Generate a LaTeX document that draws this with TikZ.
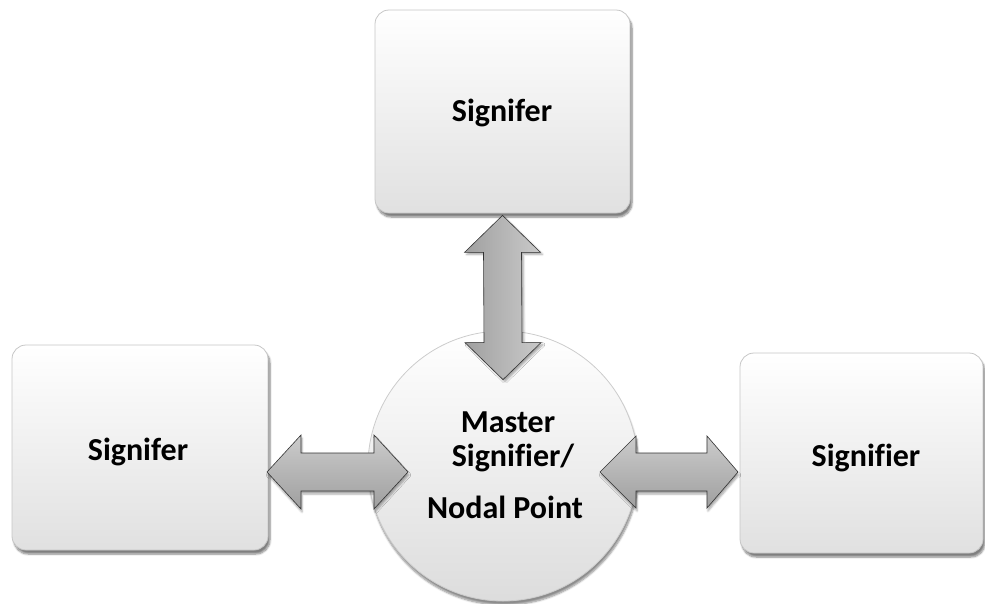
\documentclass[tikz,border=0pt]{standalone}
\usepackage{fontspec}
\setmainfont[Ligatures=NoCommon]{Carlito}
\usetikzlibrary{calc,shadows.blur}
\begin{document}
\begin{tikzpicture}[x=1pt,y=-1pt,
  sbox/.style={rectangle, rounded corners=14pt, draw=gray!45, line width=0.8pt,
    top color=white, bottom color=gray!24,
    blur shadow={shadow xshift=2pt, shadow yshift=-4pt, shadow blur steps=6, shadow opacity=50}},
  scirc/.style={circle, draw=gray!40, line width=0.8pt, top color=white, bottom color=gray!27,
    blur shadow={shadow xshift=1pt, shadow yshift=-4pt, shadow blur steps=6, shadow opacity=45}},
  lbl/.style={font=\fontsize{32}{36}\selectfont\bfseries, text=black, anchor=base, inner sep=0pt},
  harrow/.style={draw=gray!40!black, line width=0.6pt, line join=miter, top color=gray!40, bottom color=gray!75, middle color=gray!58,
    blur shadow={shadow xshift=1pt, shadow yshift=-3pt, shadow blur steps=4, shadow opacity=35}},
  varrow/.style={draw=gray!40!black, line width=0.6pt, line join=miter, left color=gray!75, right color=gray!42, middle color=gray!58,
    blur shadow={shadow xshift=2pt, shadow yshift=-2pt, shadow blur steps=4, shadow opacity=35}}
]
\useasboundingbox (0,0) rectangle (985,603);

% boxes
\node[sbox, minimum width=255pt, minimum height=203pt] (topbox) at (502.5,111.5) {};
\node[sbox, minimum width=256pt, minimum height=205pt] (leftbox) at (140,447.5) {};
\node[sbox, minimum width=243pt, minimum height=200pt] (rightbox) at (861.5,453) {};
\node[scirc, minimum size=270pt, inner sep=0pt] (master) at (503,466) {};

% labels
\node[lbl] (ttop) at (502,121) {Signifer};
\node[lbl] (tleft) at (138,460) {Signifer};
\node[lbl] (tright) at (866,466) {Signifier};
\node[lbl] (m1) at (508,432) {Master};
\node[lbl] (m2) at (513,466) {Signifier/};
\node[lbl] (m3) at (505,518) {Nodal Point};

% connector end points
\coordinate (va) at ($(topbox.south)+(0,2)$);
\coordinate (vb) at ($(master.north)+(0,49)$);
\coordinate (la) at (267,472);
\coordinate (lb) at (408,472);
\coordinate (ra) at (600,472);
\coordinate (rb) at (738,472);

% vertical double arrow
\path[varrow] (va) -- ($(va)+(38,37)$) -- ($(va)+(19,37)$) -- ($(vb)+(19,-37)$) -- ($(vb)+(38,-37)$)
  -- (vb) -- ($(vb)+(-38,-37)$) -- ($(vb)+(-19,-37)$) -- ($(va)+(-19,37)$) -- ($(va)+(-38,37)$) -- cycle;

% left double arrow
\path[harrow] (la) -- ($(la)+(34,-37)$) -- ($(la)+(34,-19)$) -- ($(lb)+(-34,-19)$) -- ($(lb)+(-34,-37)$)
  -- (lb) -- ($(lb)+(-34,37)$) -- ($(lb)+(-34,19)$) -- ($(la)+(34,19)$) -- ($(la)+(34,37)$) -- cycle;

% right double arrow
\path[harrow] (ra) -- ($(ra)+(36,-36)$) -- ($(ra)+(36,-19)$) -- ($(rb)+(-31,-19)$) -- ($(rb)+(-31,-36)$)
  -- (rb) -- ($(rb)+(-31,36)$) -- ($(rb)+(-31,19)$) -- ($(ra)+(36,19)$) -- ($(ra)+(36,36)$) -- cycle;
\end{tikzpicture}
\end{document}
